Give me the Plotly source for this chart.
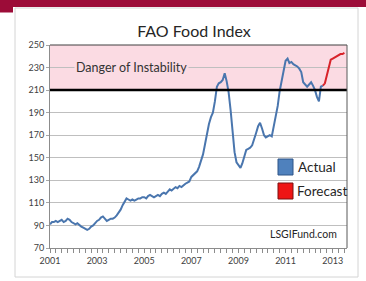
import plotly.graph_objects as go
import pandas as pd

# ---- data ----
actual_start = "2001-01-01"
actual_values = [
    91, 93, 93, 94, 93, 94, 95, 93, 94, 96, 95, 93,          # 2001
    92, 91, 92, 90, 89, 88, 87, 86, 87, 89, 90, 92,          # 2002
    94, 95, 97, 98, 96, 94, 95, 96, 96, 97, 99, 101,         # 2003
    104, 108, 111, 114, 113, 112, 113, 112, 113, 114, 114, 115,  # 2004
    115, 114, 116, 117, 116, 115, 116, 117, 116, 118, 119, 118,  # 2005
    120, 122, 121, 123, 124, 123, 125, 124, 126, 127, 128, 129,  # 2006
    133, 135, 137, 138, 142, 147, 153, 162, 172, 180, 186, 190,  # 2007
    200, 213, 216, 217, 219, 225, 218, 208, 192, 172, 155, 146,  # 2008
    143, 141, 145, 152, 157, 158, 159, 161, 166, 172, 178, 181,  # 2009
    176, 170, 168, 169, 170, 169, 178, 190, 196, 209, 218, 228,  # 2010
    236, 238, 234, 235, 233, 232, 231, 229, 226, 217, 215, 213,  # 2011
    215, 217, 214, 210, 204, 200, 213, 214,                      # 2012
]
forecast_start = "2012-08-01"
forecast_values = [214, 216, 223, 231, 237, 238, 239, 240, 241, 242, 242, 243]

y_ticks = [70, 90, 110, 130, 150, 170, 190, 210, 230, 250]
danger_low, danger_high = 210, 250
legend_labels = ["Actual", "Forecast"]
title_text = "FAO Food Index"
band_label = "Danger of Instability"
source_text = "LSGIFund.com"

actual_dates = pd.date_range(actual_start, periods=len(actual_values), freq="MS")
forecast_dates = pd.date_range(forecast_start, periods=len(forecast_values), freq="MS")

BLUE = "#4a76ae"
RED = "#d8232a"
FONT = "Lato"

W, H = 366, 281
L, R, T, B = 50, 19, 45, 33
PW, PH = W - L - R, H - T - B

def px(x):
    return (x - L) / PW

def py(y):
    return (H - B - y) / PH

fig = go.Figure()
fig.add_trace(go.Scatter(x=actual_dates, y=actual_values, mode="lines",
                         line=dict(color=BLUE, width=2), name=legend_labels[0],
                         showlegend=False))
fig.add_trace(go.Scatter(x=forecast_dates, y=forecast_values, mode="lines",
                         line=dict(color=RED, width=2), name=legend_labels[1],
                         showlegend=False))

shapes = []
# outer panel border
shapes.append(dict(type="rect", xref="paper", yref="paper", x0=px(15), x1=px(358),
                   y0=py(277), y1=py(8), line=dict(color="#d4d4d4", width=1),
                   fillcolor="rgba(0,0,0,0)", layer="below"))
# maroon bar at top
shapes.append(dict(type="rect", xref="paper", yref="paper", x0=px(0), x1=px(366),
                   y0=py(7), y1=py(0), line=dict(width=0), fillcolor="#9c0c38", layer="above"))
shapes.append(dict(type="rect", xref="paper", yref="paper", x0=px(0), x1=px(13),
                   y0=py(12.5), y1=py(0), line=dict(width=0), fillcolor="#9c0c38", layer="above"))
# danger band
shapes.append(dict(type="rect", xref="paper", yref="y", x0=0, x1=1, y0=danger_low, y1=danger_high,
                   fillcolor="#fbdbe3", line=dict(width=0), layer="below"))
# thick threshold line
shapes.append(dict(type="line", xref="paper", yref="y", x0=0, x1=1, y0=danger_low, y1=danger_low,
                   line=dict(color="black", width=2.5), layer="above"))
# legend white box
shapes.append(dict(type="rect", xref="paper", yref="paper", x0=px(273), x1=px(346),
                   y0=py(210), y1=py(147), fillcolor="white", line=dict(width=0), layer="between"))
# legend squares
shapes.append(dict(type="rect", xref="paper", yref="paper", x0=px(278), x1=px(293),
                   y0=py(175), y1=py(159), fillcolor="#4f81bd", line=dict(color="#2f5587", width=1),
                   layer="above"))
shapes.append(dict(type="rect", xref="paper", yref="paper", x0=px(278), x1=px(293),
                   y0=py(199), y1=py(183), fillcolor="#ee1515", line=dict(color="#7a1010", width=1),
                   layer="above"))
# plot frame top & right darker
shapes.append(dict(type="line", xref="paper", yref="paper", x0=0, x1=1, y0=1, y1=1,
                   line=dict(color="#404040", width=1.2), layer="above"))
shapes.append(dict(type="line", xref="paper", yref="paper", x0=1, x1=1, y0=0, y1=1,
                   line=dict(color="#595959", width=1), layer="above"))

annotations = [
    dict(xref="paper", yref="y", x=px(131), y=230, text=band_label, showarrow=False,
         xanchor="center", font=dict(family=FONT, size=12.5, color="#333333"),
         bgcolor="#fbdbe3", borderpad=1),
    dict(xref="paper", yref="paper", x=px(296), y=py(167), text=legend_labels[0], showarrow=False,
         xanchor="left", yanchor="middle", font=dict(family=FONT, size=13.5, color="#262626")),
    dict(xref="paper", yref="paper", x=px(295), y=py(191), text=legend_labels[1], showarrow=False,
         xanchor="left", yanchor="middle", font=dict(family=FONT, size=13.5, color="#262626")),
    dict(xref="paper", yref="paper", x=px(339), y=py(234), text=source_text, showarrow=False,
         xanchor="right", yanchor="middle", font=dict(family=FONT, size=10.5, color="#262626")),
]

fig.update_layout(
    width=W, height=H,
    margin=dict(l=L, r=R, t=T, b=B),
    paper_bgcolor="white", plot_bgcolor="white",
    title=dict(text=title_text, x=194 / W, xanchor="center", y=1 - 31 / H, yanchor="middle",
               font=dict(family=FONT, size=16, color="#262626")),
    shapes=shapes, annotations=annotations, showlegend=False,
)
fig.update_xaxes(
    type="date", range=["2001-01-01", "2013-08-10"],
    tickformat="%Y", dtick="M24", tick0="2001-01-01",
    ticks="outside", ticklen=4, tickcolor="#8c8c8c",
    minor=dict(dtick="M3", ticks="outside", ticklen=4, tickcolor="#8c8c8c", showgrid=False),
    showgrid=False, showline=True, linecolor="#8c8c8c", linewidth=1, mirror=False,
    tickfont=dict(family=FONT, size=9, color="#404040"),
)
fig.update_yaxes(
    range=[70, 250], tickvals=y_ticks, ticks="outside", ticklen=3, tickcolor="#a6a6a6",
    showgrid=True, gridcolor="#bfbfbf", gridwidth=1,
    showline=True, linecolor="#8c8c8c", linewidth=1, mirror=False, zeroline=False,
    tickfont=dict(family=FONT, size=9, color="#404040"),
)

fig.write_html("out.html", config={"displayModeBar": False},
               post_script="document.body.style.margin='0';document.body.style.overflow='hidden';")
